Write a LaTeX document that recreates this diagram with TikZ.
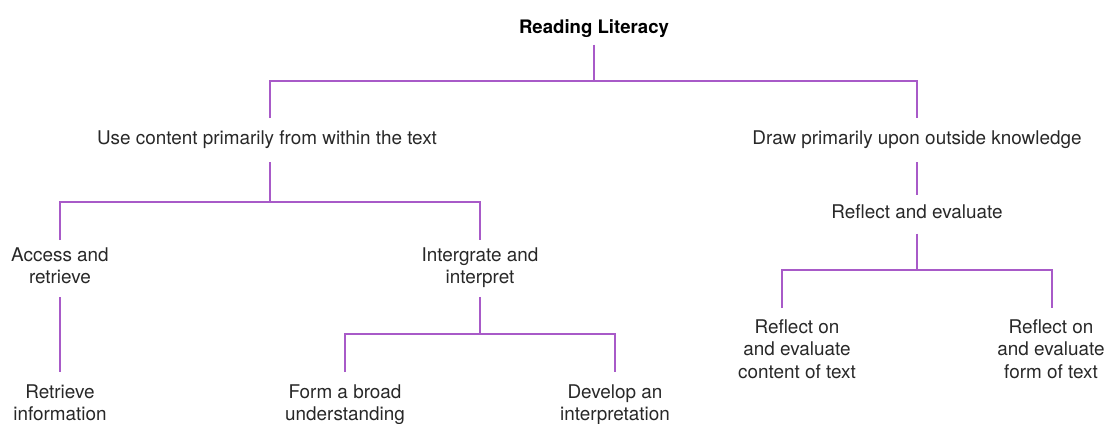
\documentclass[tikz,border=0pt]{standalone}
\usepackage{fontspec}
\setmainfont{TeX Gyre Heros}
\definecolor{linkc}{RGB}{168,90,200}
\definecolor{txt}{RGB}{40,40,40}
\begin{document}
\begin{tikzpicture}[x=1pt,y=-1pt,
  lbl/.style={inner sep=0pt, outer sep=0pt, align=center, text=txt,
    font=\fontsize{18.9}{22.6}\selectfont, anchor=north},
  ttl/.style={lbl, text=black, font=\bfseries\fontsize{18.6}{22.6}\selectfont},
  link/.style={draw=linkc, line width=1.2pt}]
\useasboundingbox (0,0) rectangle (1107,423);
% nodes
\node[ttl] (root) at (594,19.6) {Reading Literacy};
\node[lbl] (use) at (267,130.4) {Use content primarily from within the text};
\node[lbl] (outside) at (917,130.4) {Draw primarily upon outside knowledge};
\node[lbl] (access) at (60,247.4) {Access and\\retrieve};
\node[lbl] (integ) at (480,247.4) {Intergrate and\\interpret};
\node[lbl] (reflect) at (917,204.4) {Reflect and evaluate};
\node[lbl] (retr) at (60,384.4) {Retrieve\\information};
\node[lbl] (broad) at (345,384.4) {Form a broad\\understanding};
\node[lbl] (develop) at (615,384.4) {Develop an\\interpretation};
\node[lbl] (rcont) at (797,319.4) {Reflect on\\and evaluate\\content of text};
\node[lbl] (rform) at (1051,319.4) {Reflect on\\and evaluate\\form of text};
% junctions
\coordinate (j0) at (594,81);
\coordinate (j1) at (270,202);
\coordinate (j2) at (480,334);
\coordinate (j3) at (917,270);
% connectors
\draw[link] ([yshift=-7pt]root.south) -- (j0);
\draw[link] ([xshift=3pt,yshift=12.4pt]use.north) |- (j0) -| ([yshift=12.4pt]outside.north);
\draw[link] ([xshift=3pt,yshift=-14pt]use.south) -- (j1);
\draw[link] ([yshift=7.4pt]access.north) |- (j1) -| ([yshift=7.4pt]integ.north);
\draw[link] ([yshift=-13pt]access.south) -- ([yshift=12.4pt]retr.north);
\draw[link] ([yshift=-9pt]integ.south) -- (j2);
\draw[link] ([yshift=12.4pt]broad.north) |- (j2) -| ([yshift=12.4pt]develop.north);
\draw[link] ([yshift=-14pt]outside.south) -- ([yshift=9.4pt]reflect.north);
\draw[link] ([yshift=-15pt]reflect.south) -- (j3);
\draw[link] ([xshift=-15pt,yshift=11.4pt]rcont.north) |- (j3) -| ([xshift=1pt,yshift=11.4pt]rform.north);
\end{tikzpicture}
\end{document}
